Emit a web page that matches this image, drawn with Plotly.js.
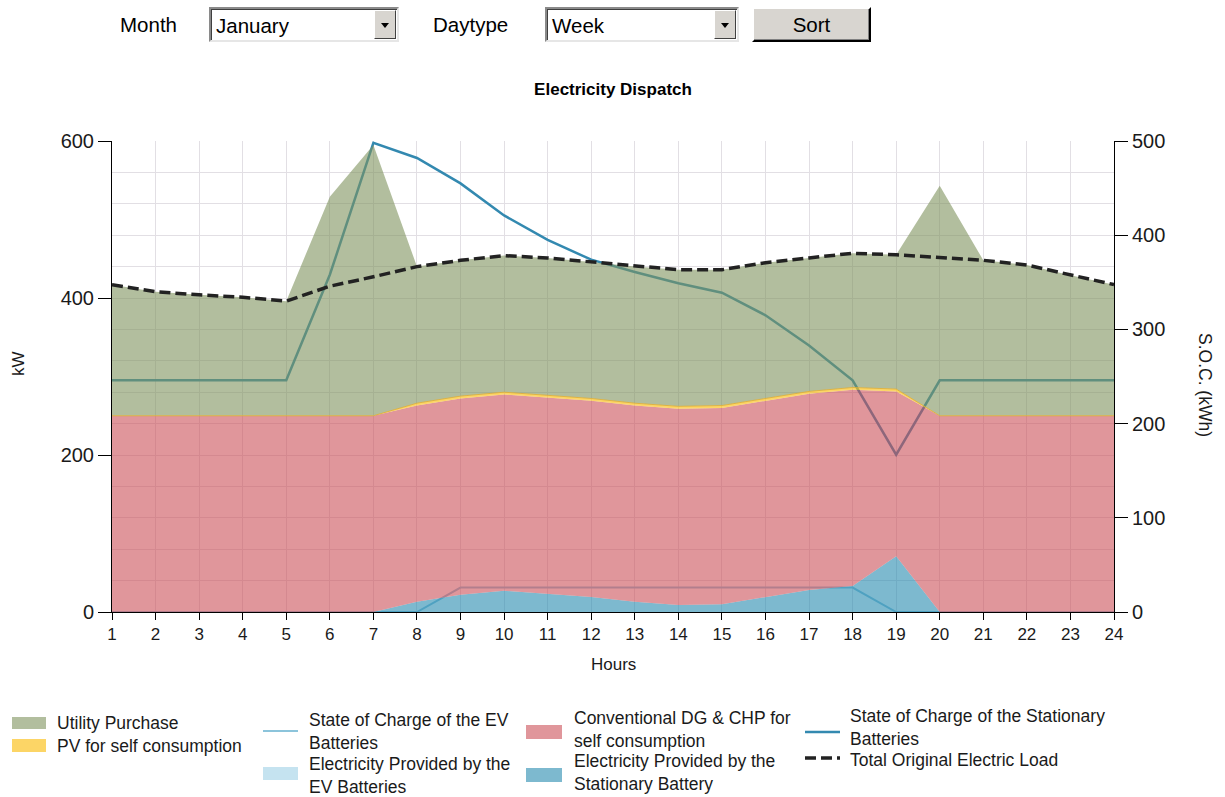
<!DOCTYPE html>
<html>
<head>
<meta charset="utf-8">
<script src="https://cdn.plot.ly/plotly-3.0.1.min.js"></script>
<style>
html,body{margin:0;padding:0;background:#fff;overflow:hidden;}
#chart{position:absolute;left:0;top:0;width:1225px;height:797px;}
.ui{position:absolute;font-family:"Liberation Sans",Arial,sans-serif;font-size:20.5px;color:#000;z-index:5;}
.lbl{top:7px;line-height:35px;}
.combo{top:7px;height:35px;box-sizing:border-box;background:#fff;border-style:solid;border-width:2px;border-color:#8a8a8a #e6e6e6 #e6e6e6 #8a8a8a;box-shadow:inset 1px 1px 0 #404040;}
.combo span{position:absolute;left:5px;top:0;line-height:33px;}
.arrow{position:absolute;right:1px;top:1px;bottom:1px;width:22px;background:#d8d5d0;box-sizing:border-box;border-style:solid;border-width:1px;border-color:#fff #404040 #404040 #fff;}
.arrow:after{content:"";position:absolute;left:6px;top:12px;border-left:4px solid transparent;border-right:4px solid transparent;border-top:5px solid #000;}
.btn{top:7px;height:35px;box-sizing:border-box;background:#d8d5d0;border-style:solid;border-width:2px;border-color:#fff #000 #000 #fff;box-shadow:inset -1px -1px 0 #808080;text-align:center;line-height:31px;}
</style>
</head>
<body>
<div id="chart"></div>
<div class="ui lbl" style="left:120px;">Month</div>
<div class="ui combo" style="left:209px;width:190px;"><span>January</span><div class="arrow"></div></div>
<div class="ui lbl" style="left:433px;">Daytype</div>
<div class="ui combo" style="left:545px;width:194px;"><span>Week</span><div class="arrow"></div></div>
<div class="ui btn" style="left:752px;width:119px;">Sort</div>
<script>
// ---- data ----
const hours = [1,2,3,4,5,6,7,8,9,10,11,12,13,14,15,16,17,18,19,20,21,22,23,24];
const stationaryBatteryProvided = [0,0,0,0,0,0,0,13,22,27,23,19,13,9,10,19,28,33,71,0,0,0,0,0];
const evBatteriesProvided = [0,0,0,0,0,0,0,0,0,0,0,0,0,0,0,0,0,0,0,0,0,0,0,0];
const conventionalDgChp = [250,250,250,250,250,250,250,250,250,250,250,250,250,250,250,250,250,250,210,250,250,250,250,250];
const pvSelfConsumption = [0,0,0,0,0,0,0,3,3,3,3,3,3,3,3,3,3,3,3,0,0,0,0,0];
const utilityPurchase = [167,158,154,151,146,279,345,174,173,174,175,174,174,174,173,173,170,171,171,293,198,192,179,167];
const totalOriginalLoad = [417,408,404,401,396,415,427,440,448,454,451,446,440,436,436,445,451,457,455,452,448,442,429,417];
const evSoc = [0,0,0,0,0,0,0,0,26,26,26,26,26,26,26,26,26,26,0,0,0,0,0,0];
const stationarySoc = [246,246,246,246,246,358,498,482,455,421,395,374,361,349,339,315,283,246,167,246,246,246,246,246];

const names = {
  utility: 'Utility Purchase',
  pv: 'PV for self consumption',
  evSoc: 'State of Charge of the EV<br>Batteries',
  evProv: 'Electricity Provided by the<br>EV Batteries',
  dg: 'Conventional DG & CHP for<br>self consumption',
  stProv: 'Electricity Provided by the<br>Stationary Battery',
  stSoc: 'State of Charge of the Stationary<br>Batteries',
  load: 'Total Original Electric Load'
};

const C = {
  utility: 'rgba(127,147,93,0.6)',
  pv: 'rgba(250,190,20,0.65)',
  pvLine: 'rgba(225,175,50,0.85)',
  dg: 'rgba(203,80,88,0.6)',
  stProv: 'rgba(38,138,175,0.6)',
  evProv: 'rgba(158,208,230,0.6)',
  evSoc: '#8cc4db',
  stSoc: '#3389b0',
  load: '#222222',
  grid: '#e2dfe4'
};
const FONT = '"Liberation Sans", Arial, sans-serif';

// ---- traces ----
const traces = [
  {x: hours, y: evSoc, yaxis: 'y', type: 'scatter', mode: 'lines', name: names.evSoc,
   line: {color: C.evSoc, width: 2}},
  {x: hours, y: stationarySoc, yaxis: 'y', type: 'scatter', mode: 'lines', name: names.stSoc,
   line: {color: C.stSoc, width: 2.5}},
  {x: hours, y: stationaryBatteryProvided, yaxis: 'y2', type: 'scatter', mode: 'lines', stackgroup: 'kw',
   name: names.stProv, fillcolor: C.stProv, line: {width: 0, color: C.stProv}},
  {x: hours, y: evBatteriesProvided, yaxis: 'y2', type: 'scatter', mode: 'lines', stackgroup: 'kw',
   name: names.evProv, fillcolor: C.evProv, line: {width: 0, color: C.evProv}},
  {x: hours, y: conventionalDgChp, yaxis: 'y2', type: 'scatter', mode: 'lines', stackgroup: 'kw',
   name: names.dg, fillcolor: C.dg, line: {width: 0, color: C.dg}},
  {x: hours, y: pvSelfConsumption, yaxis: 'y2', type: 'scatter', mode: 'lines', stackgroup: 'kw',
   name: names.pv, fillcolor: C.pv, line: {width: 1, color: C.pvLine}},
  {x: hours, y: utilityPurchase, yaxis: 'y2', type: 'scatter', mode: 'lines', stackgroup: 'kw',
   name: names.utility, fillcolor: C.utility, line: {width: 0, color: C.utility}},
  {x: hours, y: totalOriginalLoad, yaxis: 'y2', type: 'scatter', mode: 'lines', name: names.load,
   line: {color: C.load, width: 3.5, dash: '11px,5px'}}
];

// ---- pixel helpers for legend / titles (paper coords) ----
const PL = 112, PR = 1114, PT = 141, PB = 612;
const px = v => (v - PL) / (PR - PL);
const py = v => (PB - v) / (PB - PT);

const shapes = [];
function rectSw(x0, x1, y0, y1, color) {
  shapes.push({type: 'rect', xref: 'paper', yref: 'paper', x0: px(x0), x1: px(x1), y0: py(y1), y1: py(y0),
    fillcolor: color, line: {width: 0}, layer: 'above'});
}
function lineSw(x0, x1, y, color, width, dash) {
  shapes.push({type: 'line', xref: 'paper', yref: 'paper', x0: px(x0), x1: px(x1), y0: py(y), y1: py(y),
    line: {color: color, width: width, dash: dash || 'solid'}, layer: 'above'});
}
rectSw(12, 46, 717, 729, C.utility);
rectSw(12, 46, 739, 752, C.pv);
lineSw(263, 298, 731, C.evSoc, 2);
rectSw(263, 298, 767, 780, C.evProv);
rectSw(526, 562, 725, 739, C.dg);
rectSw(526, 562, 768, 782, C.stProv);
lineSw(805, 840, 732, C.stSoc, 2.5);
lineSw(805, 840, 758, C.load, 3.5, '11px,5px');

const LF = 17.5;
const annotations = [];
function txt(x, y, text, extra) {
  annotations.push(Object.assign({xref: 'paper', yref: 'paper', x: px(x), y: py(y), text: text,
    showarrow: false, xanchor: 'left', yanchor: 'middle', align: 'left',
    font: {family: FONT, size: LF, color: '#1a1a1a'}}, extra || {}));
}
txt(55, 723, names.utility);
txt(55, 746, names.pv);
txt(307, 731, names.evSoc);
txt(307, 775, names.evProv);
txt(572, 729, names.dg);
txt(572, 772, names.stProv);
txt(848, 727, names.stSoc);
txt(848, 760, names.load);
// axis titles
txt(613, 664, 'Hours', {xanchor: 'center', align: 'center', font: {family: FONT, size: 17, color: '#1a1a1a'}});
txt(18, 364, 'kW', {xanchor: 'center', align: 'center', textangle: -90, font: {family: FONT, size: 17, color: '#1a1a1a'}});
txt(1205, 385, 'S.O.C. (kWh)', {xanchor: 'center', align: 'center', textangle: 90, font: {family: FONT, size: 17.5, color: '#1a1a1a'}});

const layout = {
  width: 1225, height: 797,
  margin: {l: PL, r: 1225 - PR, t: PT, b: 797 - PB, pad: 0},
  paper_bgcolor: '#ffffff', plot_bgcolor: '#ffffff',
  showlegend: false,
  font: {family: FONT, color: '#1a1a1a'},
  title: {text: '<b>Electricity Dispatch</b>', font: {family: FONT, size: 17, color: '#000'},
    x: 0.5, xref: 'paper', xanchor: 'center', y: 1 - 89 / 797, yref: 'container', yanchor: 'middle'},
  xaxis: {range: [1, 24], tick0: 1, dtick: 1, ticks: 'outside', ticklen: 7, tickcolor: '#000',
    showline: true, linecolor: '#000', linewidth: 1, showgrid: true, gridcolor: C.grid, zeroline: false,
    tickfont: {family: FONT, size: 17, color: '#1a1a1a'}, fixedrange: true},
  yaxis: {range: [0, 500], side: 'right', tick0: 0, dtick: 100, ticks: 'outside', ticklen: 13, tickcolor: '#000',
    showline: true, linecolor: '#000', linewidth: 1, showgrid: false, zeroline: false,
    tickfont: {family: FONT, size: 20, color: '#1a1a1a'}, fixedrange: true},
  yaxis2: {range: [0, 600], overlaying: 'y', side: 'left', tick0: 0, dtick: 200, ticks: 'outside', ticklen: 13,
    tickcolor: '#000', showline: true, linecolor: '#000', linewidth: 1, showgrid: true, gridcolor: C.grid,
    zeroline: false, minor: {dtick: 40, showgrid: true, gridcolor: C.grid, ticks: ''},
    tickfont: {family: FONT, size: 20, color: '#1a1a1a'}, fixedrange: true},
  shapes: shapes,
  annotations: annotations
};

Plotly.newPlot('chart', traces, layout, {displayModeBar: false, staticPlot: true});
</script>
</body>
</html>
